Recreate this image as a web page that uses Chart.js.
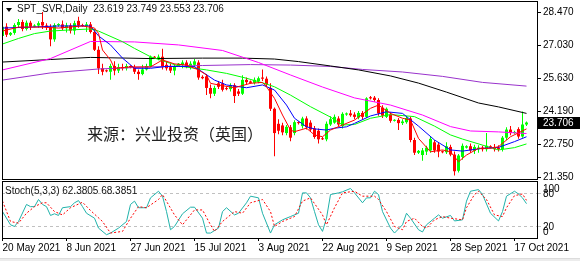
<!DOCTYPE html>
<html lang="en">
<head>
    <meta charset="UTF-8">
    <title>SPT_SVR Daily</title>
    <script src="https://cdnjs.cloudflare.com/ajax/libs/Chart.js/4.4.0/chart.umd.min.js"></script>
    <style>
        * { margin: 0; padding: 0; box-sizing: border-box; }
        body {
            width: 580px; height: 261px; background: #fff;
            position: relative; overflow: hidden;
            font-family: "Liberation Sans", Arial, sans-serif; color: #000;
        }
        #priceChart { position: absolute; left: 0; top: 0; }
        #stochChart { position: absolute; left: 0; top: 180px; }
        .caption { position: absolute; font-size: 10px; line-height: 12px; white-space: pre; color: #111; }
        #title { left: 17px; top: 3px; }
        #stochTitle { left: 5px; top: 185px; }
        .arrow {
            position: absolute; left: 6px; top: 8px; width: 0; height: 0;
            border-left: 3px solid transparent; border-right: 3px solid transparent;
            border-top: 4px solid #000;
        }
        .watermark {
            position: absolute; left: 87px; top: 123px;
            font-family: "Noto Sans CJK SC", sans-serif; font-size: 16px; line-height: 20px;
            color: #222; white-space: nowrap;
        }
        .footer { position: absolute; left: 0; bottom: 0; width: 580px; height: 3px; background: #ececec; border-top: 1px solid #dcdcdc; }
    </style>
</head>
<body>
    <canvas id="priceChart" width="580" height="180"></canvas>
    <canvas id="stochChart" width="580" height="81"></canvas>
    <div class="arrow"></div>
    <div id="title" class="caption"></div>
    <div id="stochTitle" class="caption"></div>
    <div class="watermark">来源：兴业投资（英国）</div>
    <div class="footer"></div>

    <script>
        // daily bars, 20 May 2021 .. 20 Oct 2021 (Sunday bars included)
        const opens = [
            27.45, 27.85, 27.50, 27.58, 27.92, 28.05, 27.75, 28.02, 27.85, 27.90,
            28.05, 27.90, 27.82, 27.30, 27.92, 27.95, 27.78, 27.90, 27.68, 28.10,
            27.90, 27.88, 27.95, 27.62, 26.85, 26.05, 25.95, 25.90, 26.15, 25.95,
            26.10, 26.05, 26.15, 26.10, 25.90, 25.80, 26.00, 26.15, 26.55, 26.50,
            26.55, 26.20, 26.10, 25.95, 26.15, 26.20, 26.30, 26.12, 26.20, 26.30,
            25.68, 25.70, 25.20, 24.95, 25.40, 25.40, 25.18, 25.15, 25.32, 25.05,
            24.95, 25.55, 25.48, 25.42, 25.50, 25.65, 25.60, 25.20, 24.30, 23.65,
            23.58, 23.25, 23.50, 23.25, 23.72, 23.55, 23.88, 23.70, 23.45, 23.35,
            23.02, 22.98, 23.62, 23.70, 23.88, 23.55, 24.05, 24.10, 24.05, 23.92,
            24.12, 23.95, 24.80, 24.78, 24.68, 24.35, 23.95, 24.05, 23.78, 23.82,
            23.68, 23.72, 23.88, 22.95, 22.40, 22.30, 22.45, 22.50, 22.85, 22.75,
            22.45, 22.42, 22.65, 22.32, 21.62, 22.22, 22.62, 22.68, 22.48, 22.55,
            22.62, 22.55, 22.68, 22.65, 22.62, 22.55, 23.05, 23.40, 23.25, 23.42,
            23.10, 23.619
        ];
        const highs = [
            27.95, 28.00, 27.62, 28.00, 28.18, 28.15, 28.12, 28.10, 27.95, 28.08,
            28.48, 28.00, 27.95, 28.00, 28.00, 28.12, 28.02, 28.00, 28.10, 28.28,
            27.98, 28.05, 28.05, 27.75, 27.00, 26.25, 26.00, 26.25, 26.35, 26.25,
            26.25, 26.25, 26.18, 26.20, 26.00, 26.20, 26.25, 26.60, 26.58, 26.65,
            26.90, 26.35, 26.25, 26.25, 26.28, 26.40, 26.40, 26.35, 26.45, 26.40,
            25.75, 25.80, 25.35, 25.30, 25.50, 25.55, 25.25, 25.40, 25.40, 25.15,
            25.75, 25.65, 25.52, 25.65, 25.70, 26.00, 25.70, 25.40, 24.35, 23.85,
            23.70, 23.60, 23.60, 23.80, 23.76, 23.95, 23.98, 23.80, 23.55, 23.45,
            23.08, 23.75, 23.98, 24.05, 23.98, 24.15, 24.14, 24.25, 24.15, 24.20,
            24.20, 24.80, 24.85, 24.85, 24.75, 24.45, 24.35, 24.15, 23.85, 23.90,
            23.85, 23.98, 23.95, 23.05, 22.52, 22.60, 22.70, 23.10, 22.95, 22.85,
            22.50, 22.85, 22.75, 22.45, 22.35, 22.80, 22.72, 22.80, 22.75, 22.72,
            22.70, 23.25, 22.72, 22.78, 22.72, 23.12, 23.50, 23.55, 23.35, 23.50,
            24.18, 23.749
        ];
        const lows = [
            27.35, 27.40, 27.45, 27.50, 27.80, 27.65, 27.68, 27.70, 27.82, 27.80,
            27.75, 27.70, 27.00, 27.20, 27.85, 27.70, 27.60, 27.55, 27.50, 27.80,
            27.85, 27.62, 27.55, 26.80, 25.80, 25.75, 25.88, 25.55, 25.75, 25.85,
            25.95, 25.95, 26.05, 25.80, 25.55, 25.75, 25.95, 26.10, 26.45, 26.40,
            26.00, 25.95, 25.85, 25.75, 26.12, 26.05, 26.05, 26.00, 26.10, 25.55,
            25.58, 24.90, 24.75, 24.85, 25.15, 25.05, 25.10, 25.05, 24.55, 24.85,
            24.90, 25.35, 25.38, 25.35, 25.40, 25.50, 25.25, 24.20, 22.25, 23.20,
            23.15, 23.15, 22.90, 23.15, 23.62, 23.45, 23.40, 23.30, 23.00, 22.80,
            22.95, 22.90, 23.55, 23.65, 23.55, 23.45, 24.00, 23.95, 23.85, 23.85,
            23.85, 23.90, 24.70, 24.60, 24.00, 23.90, 23.90, 23.70, 23.75, 23.38,
            23.60, 23.65, 22.85, 22.30, 22.35, 22.05, 22.30, 22.40, 22.40, 22.20,
            22.38, 22.35, 22.25, 21.42, 21.55, 22.10, 22.58, 22.40, 22.35, 22.40,
            22.45, 22.45, 22.58, 22.45, 22.45, 22.45, 22.95, 23.15, 23.22, 23.00,
            23.05, 23.553
        ];
        const closes = [
            27.85, 27.50, 27.58, 27.92, 28.05, 27.75, 28.02, 27.85, 27.90, 28.00,
            27.90, 27.82, 27.30, 27.92, 27.95, 27.78, 27.90, 27.68, 28.00, 27.90,
            27.88, 27.95, 27.62, 26.85, 26.05, 25.90, 25.92, 26.15, 25.95, 26.10,
            26.05, 26.15, 26.10, 25.90, 25.80, 26.00, 26.15, 26.55, 26.50, 26.55,
            26.10, 26.05, 25.95, 26.15, 26.25, 26.30, 26.12, 26.25, 26.35, 25.65,
            25.62, 25.20, 24.95, 25.20, 25.25, 25.12, 25.15, 25.32, 24.85, 24.95,
            25.55, 25.45, 25.42, 25.55, 25.62, 25.60, 25.35, 24.30, 23.25, 23.35,
            23.28, 23.52, 23.05, 23.72, 23.68, 23.88, 23.50, 23.40, 23.08, 22.98,
            22.98, 23.65, 23.85, 23.95, 23.62, 24.08, 24.10, 24.02, 23.95, 24.12,
            23.95, 24.75, 24.75, 24.68, 24.10, 24.00, 24.30, 23.78, 23.82, 23.68,
            23.75, 23.90, 22.95, 22.40, 22.48, 22.50, 22.62, 23.00, 22.50, 22.45,
            22.42, 22.68, 22.32, 21.60, 22.28, 22.70, 22.68, 22.50, 22.65, 22.62,
            22.55, 22.70, 22.62, 22.55, 22.55, 23.05, 23.40, 23.25, 23.30, 23.10,
            23.62, 23.706
        ];

        // moving averages at these bar numbers
        const ma5Bars = [0, 4, 10, 14, 20, 23, 24, 25, 27, 28, 32, 37, 40, 43, 46, 49, 51, 52, 54, 58, 62, 65, 66, 68, 70,
            72, 73, 76, 78, 80, 82, 85, 88, 92, 94, 97, 100, 102, 104, 107, 110, 112, 114, 116, 119, 122, 124, 127, 131];
        const ma5 = [27.66, 27.83, 27.83, 27.79, 27.88, 27.79, 27.56, 26.84, 26.41, 26.05, 26.11, 26.11, 26.41, 26.24, 26.19,
            25.98, 25.76, 25.40, 25.33, 25.21, 25.40, 25.44, 25.25, 24.75, 24.03, 23.38, 23.31, 23.46, 23.17, 23.09,
            23.38, 23.60, 23.81, 24.32, 24.46, 24.10, 23.89, 23.81, 23.02, 22.44, 22.52, 22.44, 22.01, 22.30, 22.59,
            22.59, 22.66, 23.09, 23.43];
        const ma10Bars = [0, 7, 14, 22, 24, 27, 30, 33, 37, 41, 44, 48, 53, 56, 61, 65, 68, 71, 73, 76, 78, 81, 83, 86, 88,
            92, 96, 100, 104, 108, 112, 115, 120, 124, 128, 131];
        const ma10 = [27.79, 27.83, 27.88, 27.88, 27.45, 27.06, 26.49, 26.05, 26.05, 26.13, 26.13, 26.12, 25.54, 25.33, 25.21,
            25.33, 25.11, 24.46, 23.89, 23.52, 23.43, 23.38, 23.46, 23.52, 23.67, 23.99, 24.17, 24.10, 23.55, 22.95,
            22.52, 22.47, 22.59, 22.63, 22.88, 23.09];
        const ma20Bars = [0, 4, 8, 12, 16, 22, 24, 30, 33, 37, 41, 44, 51, 56, 61, 66, 68, 72, 77, 82, 85, 88, 92, 97, 103,
            108, 112, 115, 120, 124, 128, 131];
        const ma20 = [27.10, 27.34, 27.55, 27.66, 27.70, 27.75, 27.66, 27.20, 26.91, 26.55, 26.32, 26.15, 25.98, 25.83, 25.62,
            25.37, 25.25, 24.89, 24.39, 23.94, 23.60, 23.62, 23.89, 24.05, 23.96, 23.55, 23.17, 22.99, 22.73, 22.52,
            22.62, 22.78];
        const ma60Bars = [0, 12, 22, 33, 44, 55, 64, 72, 80, 88, 97, 105, 112, 117, 124, 131];
        const ma60 = [25.98, 26.47, 27.21, 27.19, 27.06, 26.82, 26.30, 25.76, 25.24, 24.77, 24.46, 24.03, 23.53, 23.34, 23.30, 23.23];
        const ma120Bars = [0, 12, 22, 37, 50, 60, 68, 74, 82, 89, 97, 104, 111, 119, 124, 131];
        const ma120 = [26.32, 26.43, 26.52, 26.47, 26.49, 26.49, 26.45, 26.34, 26.15, 25.98, 25.72, 25.41, 25.02, 24.55, 24.38, 24.10];
        const ma250Bars = [0, 12, 24, 37, 50, 62, 72, 82, 90, 100, 110, 120, 131];
        const ma250 = [25.54, 25.85, 26.02, 26.11, 26.17, 26.21, 26.19, 26.13, 26.00, 25.89, 25.70, 25.44, 25.28];

        // Stochastic(5,3,3)
        const kBars = [0, 2, 3, 4, 6, 7, 8, 9, 10, 11, 12, 13, 14, 15, 17, 18, 19, 20, 21, 23, 24, 26, 27, 29, 31, 32, 33, 34,
            36, 37, 39, 40, 41, 42, 43, 45, 47, 48, 50, 51, 52, 54, 55, 56, 58, 59, 61, 62, 64, 65, 67, 68, 70, 72, 74,
            75, 76, 77, 78, 79, 80, 81, 82, 84, 85, 87, 88, 90, 91, 92, 93, 94, 95, 97, 98, 100, 101, 102, 104, 105,
            106, 108, 109, 110, 112, 113, 115, 116, 117, 119, 120, 122, 124, 125, 126, 128, 129, 130, 131];
        const stochK = [48, 24, 21, 30, 61, 57, 57, 70, 61, 57, 41, 44, 41, 55, 57, 64, 68, 57, 45, 36, 18, 6, 9, 18, 30, 61,
            67, 55, 55, 73, 85, 76, 48, 15, 21, 44, 56, 56, 36, 9, 9, 18, 48, 55, 42, 45, 64, 76, 73, 45, 9, 24, 33, 39,
            45, 82, 82, 73, 48, 24, 12, 36, 79, 82, 84, 90, 82, 64, 73, 73, 85, 79, 48, 18, 9, 24, 45, 36, 15, 11, 24,
            36, 42, 36, 41, 31, 33, 67, 85, 88, 79, 45, 31, 48, 76, 85, 80, 73, 62.3805];
        const dBars = [0, 2, 4, 6, 8, 10, 11, 13, 15, 17, 20, 22, 25, 27, 30, 32, 34, 36, 39, 40, 43, 45, 48, 50, 52, 53, 55,
            58, 60, 62, 65, 67, 68, 70, 73, 75, 77, 80, 81, 83, 85, 88, 90, 93, 94, 96, 98, 100, 101, 103, 105, 106,
            108, 110, 112, 115, 116, 118, 119, 121, 123, 125, 126, 128, 130, 131];
        const stochD = [67, 30, 27, 45, 57, 64, 64, 48, 42, 55, 65, 50, 30, 9, 12, 36, 57, 55, 70, 79, 42, 24, 51, 51, 24, 12,
            30, 48, 45, 64, 70, 48, 21, 30, 39, 67, 73, 42, 24, 55, 82, 85, 76, 76, 70, 48, 21, 15, 30, 36, 21, 18, 33,
            39, 36, 33, 55, 79, 85, 70, 42, 39, 55, 77, 80, 68.3851];
        const stochLevels = [20, 80];

        const priceTicks = [21.35, 22.75, 24.19, 25.63, 27.03, 28.47];
        const dateBars = [0, 16, 32, 48, 64, 80, 96, 112, 128];
        const dateLabels = ['20 May 2021', '8 Jun 2021', '27 Jun 2021', '15 Jul 2021', '3 Aug 2021',
            '22 Aug 2021', '9 Sep 2021', '28 Sep 2021', '17 Oct 2021'];

        const FONT = '"Liberation Sans", Arial, sans-serif';
        Chart.defaults.font.family = FONT;
        Chart.defaults.font.size = 10;
        Chart.defaults.color = '#000';

        // 4px per bar, same horizontal mapping in both panes
        const xMin = -0.125, xMax = 133.625;
        const last = closes.length - 1;

        document.getElementById('title').textContent = 'SPT_SVR,Daily  ' +
            [opens[last], highs[last], lows[last], closes[last]].map(v => v.toFixed(3)).join(' ');
        document.getElementById('stochTitle').textContent =
            `Stoch(5,3,3) ${stochK[stochK.length - 1].toFixed(4)} ${stochD[stochD.length - 1].toFixed(4)}`;

        const candleColors = closes.map((c, i) => c >= opens[i] ? '#00ff00' : '#ff0000');
        const wicks = lows.map((l, i) => ({ x: i, y: [l, highs[i]] }));
        const bodies = opens.map((o, i) => ({ x: i, y: [o, closes[i]] }));
        const points = (bars, values) => bars.map((b, k) => ({ x: b, y: values[k] }));

        function lineSet(bars, values, color, dash) {
            return {
                type: 'line', data: points(bars, values), borderColor: color, borderWidth: 1,
                borderDash: dash || [], pointRadius: 0, fill: false, tension: 0, order: 0
            };
        }

        const framePlugin = {
            id: 'frame',
            afterDraw(chart) {
                const { ctx, chartArea: a } = chart;
                ctx.save();
                ctx.strokeStyle = '#000';
                ctx.lineWidth = 1;
                ctx.strokeRect(a.left + 0.5, a.top + 0.5, a.right - a.left, a.bottom - a.top);
                ctx.restore();
            }
        };

        const priceTag = {
            id: 'priceTag',
            afterDraw(chart) {
                const { ctx, chartArea: a } = chart;
                const y = Math.round(chart.scales.y.getPixelForValue(closes[last]));
                ctx.save();
                ctx.fillStyle = '#000';
                ctx.fillRect(a.right + 1, y - 6, chart.width - a.right - 1, 12);
                ctx.fillStyle = '#fff';
                ctx.font = '10px ' + FONT;
                ctx.textBaseline = 'middle';
                ctx.fillText(closes[last].toFixed(3), a.right + 6, y + 0.5);
                ctx.restore();
            }
        };

        const stochEnds = {
            id: 'stochEnds',
            afterDraw(chart) {
                const { ctx, chartArea: a } = chart;
                ctx.save();
                ctx.fillStyle = '#000';
                ctx.font = '10px ' + FONT;
                ctx.textBaseline = 'middle';
                ctx.fillText('100', a.right + 6, a.top + 8);
                ctx.fillText('0', a.right + 6, a.bottom - 5.5);
                ctx.restore();
            }
        };

        new Chart(document.getElementById('priceChart'), {
            type: 'bar',
            data: {
                datasets: [
                    lineSet(ma5Bars, ma5, '#ff0000'),
                    lineSet(ma10Bars, ma10, '#0000ff'),
                    lineSet(ma20Bars, ma20, '#00ff00'),
                    lineSet(ma60Bars, ma60, '#ff00ff'),
                    lineSet(ma120Bars, ma120, '#000000'),
                    lineSet(ma250Bars, ma250, '#9932cc'),
                    { data: bodies, backgroundColor: candleColors, barThickness: 3, minBarLength: 1,
                      grouped: false, inflateAmount: 0, order: 1 },
                    { data: wicks, backgroundColor: candleColors, barThickness: 1, minBarLength: 1,
                      grouped: false, inflateAmount: 0, order: 2 }
                ]
            },
            options: {
                responsive: false,
                animation: false,
                devicePixelRatio: 1,
                layout: { padding: { left: 2, top: 1, right: 0, bottom: 1 } },
                plugins: { legend: { display: false }, tooltip: { enabled: false } },
                scales: {
                    x: { type: 'linear', display: false, min: xMin, max: xMax, offset: false },
                    y: {
                        position: 'right',
                        min: 21.264,
                        max: 28.959,
                        afterBuildTicks: axis => { axis.ticks = priceTicks.map(v => ({ value: v })); },
                        afterFit: axis => { axis.width = 43; axis.paddingTop = 0; axis.paddingBottom = 0; },
                        ticks: { padding: 2, callback: v => v.toFixed(3) },
                        grid: { drawOnChartArea: false, tickLength: 4, color: '#000' },
                        border: { display: false }
                    }
                }
            },
            plugins: [framePlugin, priceTag]
        });

        new Chart(document.getElementById('stochChart'), {
            type: 'line',
            data: {
                datasets: [
                    lineSet(dBars, stochD, '#ff0000', [2, 2]),
                    lineSet(kBars, stochK, '#20b2aa')
                ]
            },
            options: {
                responsive: false,
                animation: false,
                devicePixelRatio: 1,
                layout: { padding: { left: 2, top: 1, right: 0, bottom: 0 } },
                plugins: { legend: { display: false }, tooltip: { enabled: false } },
                scales: {
                    x: {
                        type: 'linear', min: xMin, max: xMax, offset: false,
                        afterBuildTicks: axis => { axis.ticks = dateBars.map(v => ({ value: v })); },
                        afterFit: axis => { axis.height = 23; axis.paddingLeft = 0; axis.paddingRight = 0; },
                        ticks: {
                            callback: (v, i) => dateLabels[i],
                            align: 'start', autoSkip: false, maxRotation: 0, minRotation: 0, padding: 1
                        },
                        grid: { drawOnChartArea: false, tickLength: 3, color: '#000' },
                        border: { display: false }
                    },
                    y: {
                        position: 'right',
                        min: 0,
                        max: 103.6,
                        afterBuildTicks: axis => { axis.ticks = stochLevels.map(v => ({ value: v })); },
                        afterFit: axis => { axis.width = 43; axis.paddingTop = 0; axis.paddingBottom = 0; },
                        ticks: { padding: 2 },
                        grid: { color: '#c0c0c0', tickLength: 4 },
                        border: { display: false, dash: [3, 3] }
                    }
                }
            },
            plugins: [framePlugin, stochEnds]
        });
    </script>
</body>
</html>
